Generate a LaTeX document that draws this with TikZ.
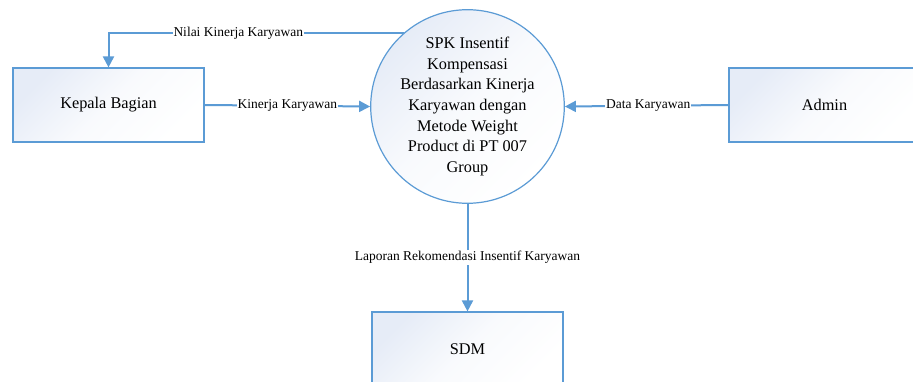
\documentclass[tikz,border=0pt]{standalone}
\usepackage{fontspec}
\setmainfont{Liberation Serif}
\usetikzlibrary{arrows.meta}
\definecolor{flowblue}{HTML}{5B9BD5}
\definecolor{boxline}{HTML}{5B9BD5}
\definecolor{shadeblue}{HTML}{E6ECF7}
\tikzset{
  entity/.style={draw=boxline, line width=1.2pt, minimum width=191pt, minimum height=74pt,
    top color=shadeblue, bottom color=white, middle color=white!75!shadeblue, shading angle=45,
    font=\fontsize{16.3}{20.7}\selectfont, inner sep=0pt},
  process/.style={circle, draw=boxline, line width=1.2pt, minimum size=191pt,
    top color=shadeblue, bottom color=white, middle color=white!75!shadeblue, shading angle=45,
    align=center, font=\fontsize{16.3}{20.7}\selectfont, inner sep=0pt},
  flow/.style={draw=flowblue, line width=2pt, -{Triangle[length=11pt,width=11pt]}},
  flowlabel/.style={fill=white, inner sep=1pt, text=black, font=\fontsize{13.5}{15}\selectfont}
}
\begin{document}
\begin{tikzpicture}[x=1pt, y=-1pt]
  \useasboundingbox (0,0) rectangle (913,382);
  \clip (0,0) rectangle (913,382);
  \fill[white] (0,0) rectangle (913,382);

  % external entities and the process
  \node[entity] (kb) at (108.5,105) {Kepala Bagian};
  \node[entity] (admin) at (824.5,105) {Admin};
  \node[entity] (sdm) at (467.5,349) {SDM};
  \node[process] (spk) at (467.5,106.5) {SPK Insentif\\Kompensasi\\Berdasarkan Kinerja\\Karyawan dengan\\Metode Weight\\Product di PT 007\\Group};

  % data flows
  \draw[flow] (spk.131.5) -| (kb.north)
    node[flowlabel, pos=0.28] {Nilai Kinerja Karyawan};
  \draw[flow] (kb.east) -- (spk.west)
    node[flowlabel, pos=0.5] {Kinerja Karyawan};
  \draw[flow] (admin.west) -- (spk.east)
    node[flowlabel, pos=0.49] {Data Karyawan};
  \draw[flow] (spk.south) -- (sdm.north)
    node[flowlabel, pos=0.5] {Laporan Rekomendasi Insentif Karyawan};
\end{tikzpicture}
\end{document}
